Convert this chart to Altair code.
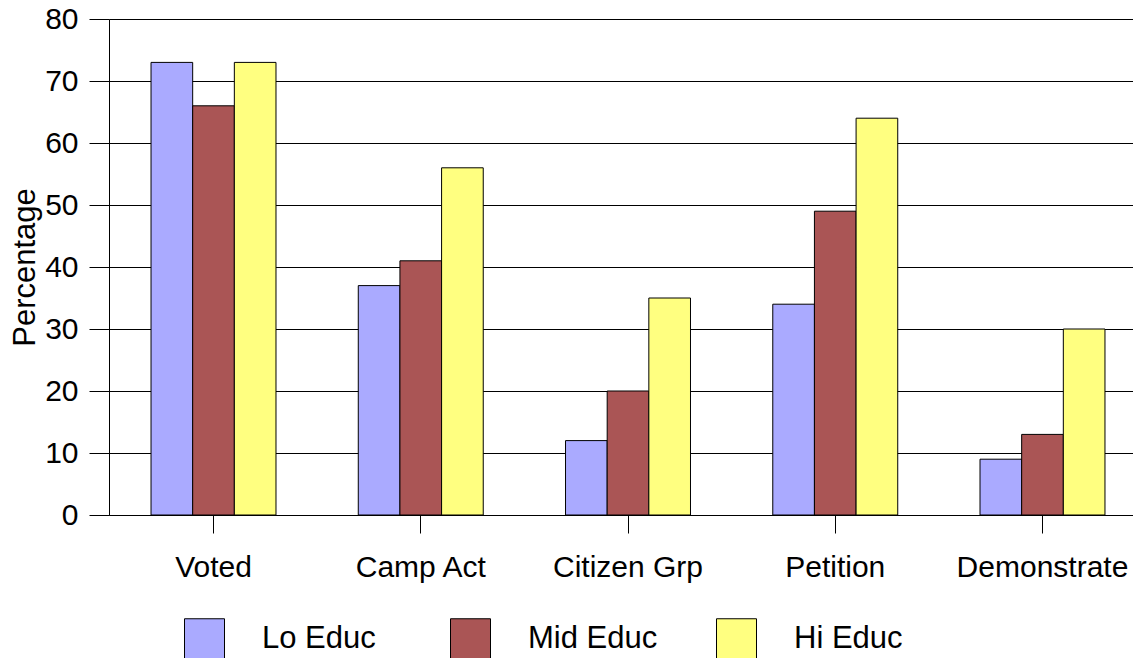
import altair as alt
import pandas as pd

categories = ["Voted", "Camp Act", "Citizen Grp", "Petition", "Demonstrate"]
groups = ["Lo Educ", "Mid Educ", "Hi Educ"]
lo_educ = [73, 37, 12, 34, 9]
mid_educ = [66, 41, 20, 49, 13]
hi_educ = [73, 56, 35, 64, 30]
colors = ["#AAAAFF", "#AA5555", "#FFFF80"]
y_ticks = [0, 10, 20, 30, 40, 50, 60, 70, 80]

rows = []
for g, vals in zip(groups, [lo_educ, mid_educ, hi_educ]):
    for c, v in zip(categories, vals):
        rows.append({"cat": c, "grp": g, "val": v})
df = pd.DataFrame(rows)

FONT = "Liberation Sans"
FS = 30

chart = alt.Chart(df).mark_bar(stroke="black", strokeWidth=1).encode(
    x=alt.X("cat:N", sort=categories,
            scale=alt.Scale(paddingInner=0.397, paddingOuter=0.169, align=0.6),
            axis=alt.Axis(title=None, labelAngle=0, tickSize=18, labelPadding=19,
                          tickColor="black", domainColor="black", labelColor="black",
                          labelFont=FONT, labelFontSize=FS, grid=False)),
    xOffset=alt.XOffset("grp:N", sort=groups),
    y=alt.Y("val:Q", scale=alt.Scale(domain=[0, 80], nice=False),
            axis=alt.Axis(title="Percentage", values=y_ticks, tickSize=20, labelPadding=11,
                          tickColor="black", domainColor="black", gridColor="black",
                          gridOpacity=1, gridWidth=1, grid=True, labelColor="black",
                          labelFont=FONT, labelFontSize=FS, titleFont=FONT,
                          titleFontSize=31, titleFontWeight="normal", titleColor="black",
                          titlePadding=3)),
    color=alt.Color("grp:N", sort=groups,
                    scale=alt.Scale(domain=groups, range=colors),
                    legend=alt.Legend(title=None, orient="none", legendX=75, legendY=599,
                                      direction="horizontal", columns=3, columnPadding=56,
                                      gridAlign="all", symbolType="square", symbolSize=1600,
                                      symbolStrokeColor="black", symbolStrokeWidth=1,
                                      symbolOpacity=1, labelOffset=37, labelFont=FONT,
                                      labelFontSize=31, labelColor="black", labelLimit=400,
                                      padding=0)),
).properties(
    width=1024, height=496,
    autosize=alt.AutoSizeParams(type="none"),
    padding={"left": 101, "top": 11, "right": 0, "bottom": 170},
).configure_view(stroke=None).configure(background="white")

chart.save("out.html", embed_options={"renderer": "svg", "actions": False})
